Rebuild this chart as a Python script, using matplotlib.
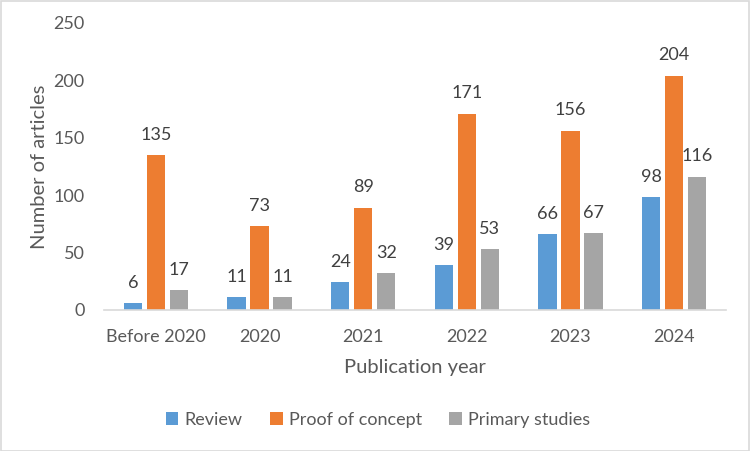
import matplotlib.pyplot as plt
import numpy as np
from matplotlib.patches import Rectangle

plt.rcParams['font.family'] = ['Lato', 'DejaVu Sans']

# chart data
categories = ['Before 2020', '2020', '2021', '2022', '2023', '2024']
review = [6, 11, 24, 39, 66, 98]
proof_of_concept = [135, 73, 89, 171, 156, 204]
primary_studies = [17, 11, 32, 53, 67, 116]
series_names = ['Review', 'Proof of concept', 'Primary studies']

_COLORS = ['#5B9BD5', '#ED7D31', '#A5A5A5']
_TEXT = '#595959'

fig = plt.figure(figsize=(7.5, 4.51), dpi=100)
ax = fig.add_axes([104 / 750, 1 - 310 / 451, 622 / 750, 287 / 451])

x = np.arange(len(categories))
width = 0.174
step = 0.222
for i, (vals, name) in enumerate(zip([review, proof_of_concept, primary_studies], series_names)):
    bars = ax.bar(x + (i - 1) * step, vals, width, color=_COLORS[i], label=name)
    for b, v in zip(bars, vals):
        ax.annotate(str(v), (b.get_x() + b.get_width() / 2, v), xytext=(0, 9),
                    textcoords='offset points', ha='center', va='bottom',
                    fontsize=13, color='#404040')

ax.set_xlim(-0.5, len(categories) - 0.5)
ax.set_ylim(0, 250)
ax.set_yticks(range(0, 251, 50))
ax.set_xticks(x)
ax.set_xticklabels(categories)
ax.tick_params(axis='both', length=0, labelsize=13, labelcolor=_TEXT)
ax.tick_params(axis='x', pad=14)
ax.tick_params(axis='y', pad=14)
for side in ['top', 'right', 'left']:
    ax.spines[side].set_visible(False)
ax.spines['bottom'].set_color('#D9D9D9')
ax.spines['bottom'].set_linewidth(1.2)

ax.set_xlabel('Publication year', fontsize=14.5, color=_TEXT, labelpad=10)
ax.set_ylabel('Number of articles', fontsize=14.5, color=_TEXT, labelpad=4)

fig.legend(loc='center', bbox_to_anchor=(378 / 750, 1 - 420 / 451), ncol=3, frameon=False,
           fontsize=13, handlelength=0.7, handleheight=0.7, handletextpad=0.35,
           columnspacing=1.5, labelcolor=_TEXT)

# chart border
fig.patches.append(Rectangle((0.001, 0.001), 0.997, 0.997, transform=fig.transFigure,
                             fill=False, edgecolor='#D9D9D9', linewidth=1.2))

fig.savefig('out.png', dpi=100)
